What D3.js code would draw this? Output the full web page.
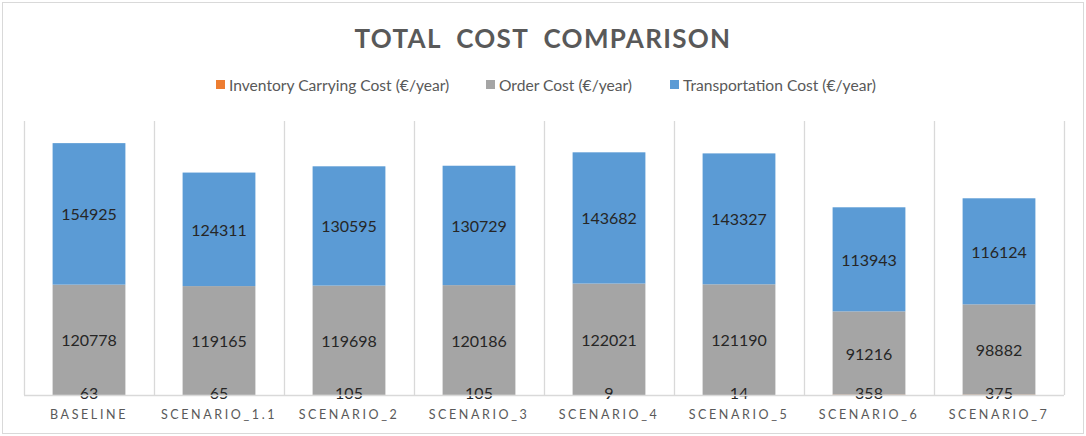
<!DOCTYPE html>
<html><head><meta charset="utf-8">
<script src="https://cdn.jsdelivr.net/npm/d3@7"></script>
<style>
body{margin:0;background:#fff;}
svg{display:block;}
text{font-family:Lato,"Open Sans",sans-serif;}
</style></head>
<body><svg id="c" width="1086" height="436"></svg>
<script>
const categories=["BASELINE","SCENARIO_1.1","SCENARIO_2","SCENARIO_3","SCENARIO_4","SCENARIO_5","SCENARIO_6","SCENARIO_7"];
const inventoryCost=[63,65,105,105,9,14,358,375];
const orderCost=[120778,119165,119698,120186,122021,121190,91216,98882];
const transportCost=[154925,124311,130595,130729,143682,143327,113943,116124];
const seriesNames=["Inventory Carrying Cost (€/year)","Order Cost (€/year)","Transportation Cost (€/year)"];
const colors=["#ED7D31","#A5A5A5","#5B9BD5"];
const yMax=300000;

const svg=d3.select("#c");
svg.append("rect").attr("x",2.5).attr("y",2.5).attr("width",1081).attr("height",431)
  .attr("fill","#fff").attr("stroke","#D9D9D9").attr("stroke-width",1);

const m={l:24,r:1064,t:121,b:395};
const x=d3.scaleBand().domain(categories).range([m.l,m.r]).paddingInner(0.44).paddingOuter(0.22);
const y=d3.scaleLinear().domain([0,yMax]).range([m.b,m.t]);

const bounds=d3.range(categories.length+1).map(i=>m.l+i*(m.r-m.l)/categories.length);
svg.append("g").selectAll("line").data(bounds).join("line")
  .attr("x1",d=>d+0.5).attr("x2",d=>d+0.5).attr("y1",m.t).attr("y2",m.b)
  .attr("stroke","#D9D9D9").attr("stroke-width",1.3);

const rows=categories.map((c,i)=>({cat:c,inv:inventoryCost[i],ord:orderCost[i],tr:transportCost[i]}));
const stack=d3.stack().keys(["inv","ord","tr"])(rows);

const g=svg.append("g");
stack.forEach((s,si)=>{
  g.append("g").selectAll("rect").data(s).join("rect")
    .attr("x",d=>x(d.data.cat)).attr("width",x.bandwidth())
    .attr("y",d=>y(d[1])).attr("height",d=>y(d[0])-y(d[1]))
    .attr("fill",colors[si]);
});
svg.append("line").attr("x1",m.l).attr("x2",m.r).attr("y1",m.b+0.5).attr("y2",m.b+0.5)
  .attr("stroke","#D9D9D9").attr("stroke-width",1.3);

stack.forEach((s,si)=>{
  g.append("g").selectAll("text").data(s).join("text")
    .attr("x",d=>x(d.data.cat)+x.bandwidth()/2)
    .attr("y",d=>(y(d[0])+y(d[1]))/2 + (si===0?-2:0))
    .attr("text-anchor","middle").attr("dominant-baseline","central")
    .attr("font-size",16).attr("fill","#262626")
    .text(d=>d[1]-d[0]);
});

const xAxis=d3.axisBottom(x).tickSize(0).tickPadding(0);
const ax=svg.append("g").attr("transform",`translate(0,${m.b})`).call(xAxis);
ax.select(".domain").remove();
ax.selectAll("text").attr("y",20).attr("dy","0.32em").attr("font-size",12.5)
  .attr("fill","#595959").attr("letter-spacing","2.6px")
  .style("font-family","Lato,'Open Sans',sans-serif");

svg.append("text").attr("x",543).attr("y",38).attr("text-anchor","middle")
  .attr("dominant-baseline","central").attr("font-size",26).attr("font-weight","bold")
  .attr("fill","#595959").attr("letter-spacing","1.3px").style("white-space","pre")
  .text("TOTAL  COST  COMPARISON");

const legX=[216,486,670];
const lg=svg.append("g");
seriesNames.forEach((n,i)=>{
  lg.append("rect").attr("x",legX[i]).attr("y",80).attr("width",9).attr("height",9).attr("fill",colors[i]);
  lg.append("text").attr("x",legX[i]+13).attr("y",85).attr("dominant-baseline","central")
    .attr("font-size",15.6).attr("fill","#595959").text(n);
});
</script></body></html>
